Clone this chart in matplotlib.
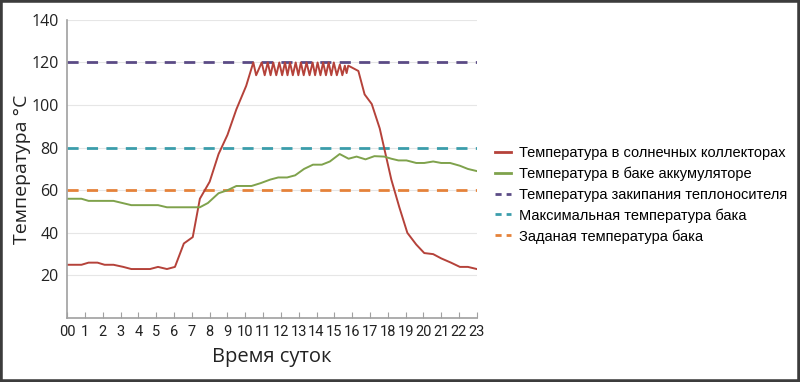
import matplotlib
matplotlib.use("Agg")
import matplotlib.pyplot as plt
from matplotlib.lines import Line2D
from matplotlib.patches import Rectangle

# Температура в солнечных коллекторах (время, ч / °C)
collector_t = [0, 0.8, 1.2, 1.7, 2.1, 2.6, 3.15, 3.6, 4.65, 5.1, 5.6, 6.05,
               6.55, 7.05, 7.45, 8.0, 8.5, 9.0, 9.5, 10.05,
               10.45, 10.61, 10.92, 11.09, 11.26, 11.42, 11.57, 11.74, 11.91,
               12.07, 12.23, 12.37, 12.51, 12.67, 12.83, 12.98, 13.12, 13.28,
               13.44, 13.61, 13.78, 13.92, 14.06, 14.22, 14.37, 14.53, 14.68,
               14.83, 14.97, 15.14, 15.31, 15.45, 15.59, 15.69, 15.78, 15.9,
               16.35, 16.7, 17.1, 17.55, 18.2, 18.65, 19.1, 19.6, 20.05, 20.55,
               21.0, 21.55, 22.05, 22.5, 23.0]
collector = [25, 25, 26, 26, 25, 25, 24, 23, 23, 24, 23, 24,
             35, 38, 56, 64, 77, 86, 98, 109,
             120, 114, 120, 114, 120, 114, 120, 114, 120,
             114, 120, 114, 120, 114, 120, 114, 120, 114,
             120, 114, 120, 114, 120, 114, 120, 114, 120,
             114, 120, 114, 119, 114, 118.5, 115, 118.5, 118,
             116, 105, 100.5, 89, 65, 52, 40, 34.5, 30.5, 30,
             28, 26, 24, 24, 23]

# Температура в баке аккумуляторе
tank_t = [0, 0.8, 1.2, 2.6, 3.6, 5.1, 5.6, 7.45, 7.9, 8.5, 9.0, 9.5, 10.35,
          10.85, 11.4, 11.85, 12.35, 12.8, 13.3, 13.8, 14.3, 14.75, 15.3,
          15.8, 16.25, 16.75, 17.25, 17.8, 18.2, 18.6, 19.05, 19.6, 20.05,
          20.55, 21.0, 21.5, 22.05, 22.5, 23.0]
tank = [56, 56, 55, 55, 53, 53, 52, 52, 54, 58.6, 60, 62, 62,
        63.3, 65, 66, 66, 67, 70, 72, 72, 73.5, 77,
        74.8, 75.8, 74.5, 76, 75.8, 74.8, 74, 74, 72.8, 72.8,
        73.5, 72.8, 72.8, 71.5, 70, 69]

# горизонтальные уровни
boiling = 120
tank_max = 80
tank_set = 60

hours = list(range(24))
hour_labels = ["00"] + [str(h) for h in range(1, 24)]

labels = ["Температура в солнечных коллекторах",
          "Температура в баке аккумуляторе",
          "Температура закипания теплоносителя",
          "Максимальная температура бака",
          "Заданая температура бака"]
colors = ["#b5423a", "#7fa24c", "#5b4b85", "#3b9dab", "#e5823a"]

axis_font = ["Open Sans", "DejaVu Sans"]
tick_font = ["Liberation Sans Narrow", "Roboto", "DejaVu Sans"]

fig = plt.figure(figsize=(8, 3.82), dpi=100)
ax = fig.add_axes([0.084, 0.1675, 0.512, 0.7805])

ax.hlines(boiling, 0, 23, color=colors[2], lw=2.0, linestyles=(0, (4, 3)))
ax.hlines(tank_max, 0, 23, color=colors[3], lw=2.0, linestyles=(0, (4, 3)))
ax.hlines(tank_set, 0, 23, color=colors[4], lw=2.0, linestyles=(0, (4, 3)))
ax.plot(collector_t, collector, color=colors[0], lw=1.4)
ax.plot(tank_t, tank, color=colors[1], lw=1.4)

ax.set_xlim(0, 23)
ax.set_ylim(0, 140)
ax.set_yticks([20, 40, 60, 80, 100, 120, 140])
ax.set_xticks(hours)
ax.set_xticklabels(hour_labels, family=tick_font, fontsize=10.5, color="#222")
for t in ax.get_yticklabels():
    t.set_family(axis_font)
    t.set_fontsize(11.5)
    t.set_color("#222")
ax.grid(axis="y", color="#e6e6e6", lw=0.8)
ax.set_axisbelow(True)

for s in ["top", "right"]:
    ax.spines[s].set_visible(False)
for s in ["left", "bottom"]:
    ax.spines[s].set_color("#a0a0a0")
    ax.spines[s].set_linewidth(1.2)
ax.tick_params(axis="y", length=0, pad=6)
ax.tick_params(axis="x", direction="in", length=4, color="#a0a0a0", pad=5)

ax.set_ylabel("Температура °C", family=axis_font, fontsize=14, color="#222")
ax.yaxis.set_label_coords(-0.088, 0.5)
ax.set_xlabel("Время суток", family=axis_font, fontsize=14.5, color="#222",
              labelpad=6)

handles = [Line2D([], [], color=colors[0], lw=2),
           Line2D([], [], color=colors[1], lw=2),
           Line2D([], [], color=colors[2], lw=2, dashes=(2.2, 1.8)),
           Line2D([], [], color=colors[3], lw=2, dashes=(2.2, 1.8)),
           Line2D([], [], color=colors[4], lw=2, dashes=(2.2, 1.8))]
fig.legend(handles, labels, loc="center left", bbox_to_anchor=(0.619, 0.49),
           frameon=False, borderpad=0, borderaxespad=0, handlelength=1.1,
           handletextpad=0.55, labelspacing=0.45,
           prop={"family": ["Liberation Sans", "DejaVu Sans"], "size": 10.5})

fig.patches.append(Rectangle((0, 0), 1, 1, transform=fig.transFigure,
                             fill=False, ec="#3c3c3c", lw=4))

fig.savefig("out.png", dpi=100)
